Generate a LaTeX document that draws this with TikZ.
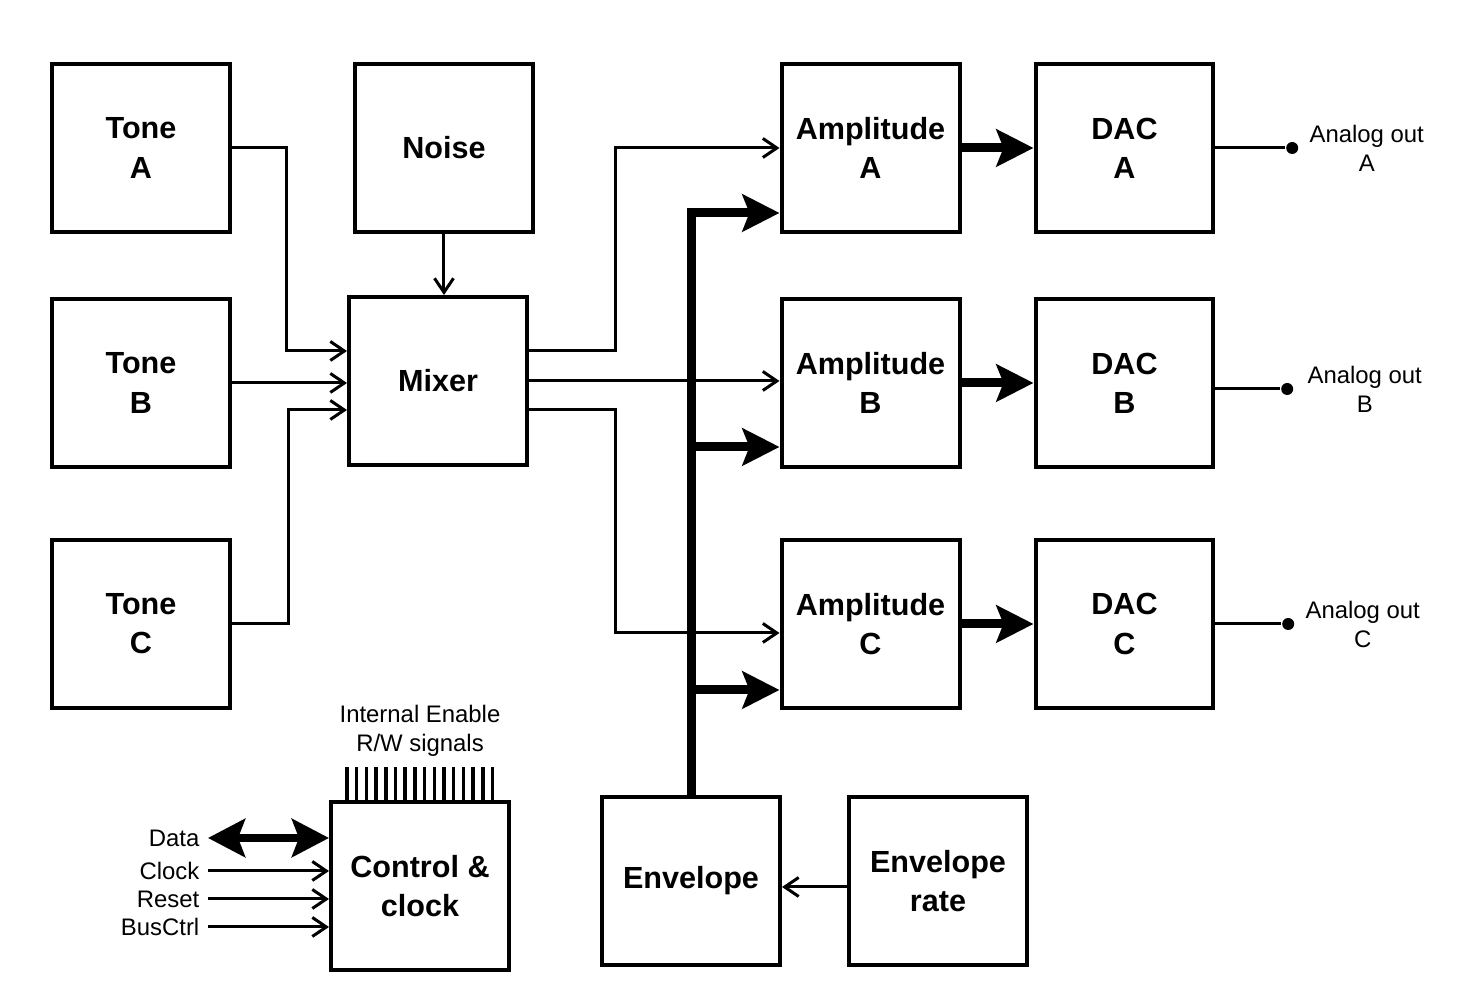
\documentclass[tikz,border=0pt]{standalone}
\usepackage{fontspec}
\setsansfont{Liberation Sans}
\usetikzlibrary{arrows.meta,calc,positioning}

\begin{document}
\begin{tikzpicture}[x=0.1mm,y=-0.1mm,font=\sffamily,box/.style={draw,line width=0.4mm,minimum width=17.8mm,minimum height=16.8mm,align=center,font=\sffamily\bfseries\fontsize{8.7}{11.1}\selectfont},wire/.style={line width=0.3mm,-{Straight Barb[length=1.4mm,width=1.9mm]}},bus/.style={line width=0.9mm,-{Stealth[length=3.7mm,width=3.7mm,inset=0.7mm]}},lbl/.style={inner sep=0pt,align=center,font=\sffamily\fontsize{6.8}{8.25}\selectfont},dot/.style={circle,fill,inner sep=0pt,minimum size=1.2mm}]
\useasboundingbox (0,0) rectangle (1458,1002);
% sources and mixer
\node[box] (toneA) at (141,148) {Tone\\A};
\node[box,right=12.1mm of toneA] (noise) {Noise};
\node[box,below=6.3mm of toneA] (toneB) {Tone\\B};
\node[box,below=6.9mm of toneB] (toneC) {Tone\\C};
\node[box] (mixer) at (438,381) {Mixer};
% amplitude and DAC
\node[box] (ampA) at (870.5,148) {Amplitude\\A};
\node[box,below=6.3mm of ampA] (ampB) {Amplitude\\B};
\node[box,below=6.9mm of ampB] (ampC) {Amplitude\\C};
\node[box,right=7.2mm of ampA] (dacA) {DAC\\A};
\node[box,right=7.2mm of ampB] (dacB) {DAC\\B};
\node[box,right=7.2mm of ampC] (dacC) {DAC\\C};
\node[box] (env) at (691,881) {Envelope};
\node[box,right=6.5mm of env] (envrate) {Envelope\\rate};
\node[box] (ctrl) at (420,886) {Control \&\\clock};
% outputs
\node[dot,right=7mm of dacA] (outA) {};
\node[dot,right=6.5mm of dacB,yshift=-0.6mm] (outB) {};
\node[dot,right=6.6mm of dacC] (outC) {};
\node[lbl,right=1mm of outA] {Analog out\\A};
\node[lbl,right=1.3mm of outB] {Analog out\\B};
\node[lbl,right=1mm of outC] {Analog out\\C};
\draw[line width=0.3mm] (dacA.east) -- (outA);
\draw[line width=0.3mm] (dacB.east |- outB) -- (outB);
\draw[line width=0.3mm] (dacC.east) -- (outC);
% mixer inputs
\draw[wire] (toneA.east) -- ++(55,0) |- ([yshift=3mm]mixer.west);
\draw[wire] (toneB.east) -- (toneB.east -| mixer.west);
\draw[wire] (toneC.east) -- ++(57,0) |- ([yshift=-2.9mm]mixer.west);
\draw[wire] (noise.south) -- (noise.south |- mixer.north);
% mixer outputs
\draw[wire] ([yshift=3mm]mixer.east) -- ++(86,0) |- (ampA.west);
\draw[wire] (mixer.east) -- (mixer.east -| ampB.west);
\draw[wire] ([yshift=-2.9mm]mixer.east) -- ++(86,0) |- ([yshift=-0.9mm]ampC.west);
% envelope bus
\coordinate (inA) at ([yshift=-6.5mm]ampA.west);
\coordinate (inB) at ([yshift=-6.4mm]ampB.west);
\coordinate (inC) at ([yshift=-6.6mm]ampC.west);
\draw[bus] (env.north) |- (inA);
\draw[bus] (env.north |- inB) -- (inB);
\draw[bus] (env.north |- inC) -- (inC);
\draw[wire] ([yshift=-0.6mm]envrate.west) -- ([yshift=-0.6mm]env.east);
\draw[bus] (ampA) -- (dacA);
\draw[bus] (ampB) -- (dacB);
\draw[bus] (ampC) -- (dacC);
% control inputs
\node[lbl,anchor=east,inner sep=0.8mm] (data) at (208,838) {Data};
\node[lbl,anchor=east,inner sep=0.8mm] (clock) at (208,871) {Clock};
\node[lbl,anchor=east,inner sep=0.8mm] (reset) at (208,899) {Reset};
\node[lbl,anchor=east,inner sep=0.8mm] (busctrl) at (208,927) {BusCtrl};
\draw[line width=0.8mm,{Stealth[length=3.7mm,width=3.8mm,inset=0.7mm]}-{Stealth[length=3.7mm,width=3.8mm,inset=0.7mm]}] (data.east) -- (data.east -| ctrl.west);
\draw[wire] (clock.east) -- (clock.east -| ctrl.west);
\draw[wire] (reset.east) -- (reset.east -| ctrl.west);
\draw[wire] (busctrl.east) -- (busctrl.east -| ctrl.west);
% enable lines
\foreach \i in {0,...,15}
  \draw[line width=0.35mm] ($(ctrl.north west)+(18+9.7*\i,0)$) -- ++(0,-33);
\node[lbl] (rw) at (420,731) {Internal Enable\\R/W signals};
\end{tikzpicture}
\end{document}
